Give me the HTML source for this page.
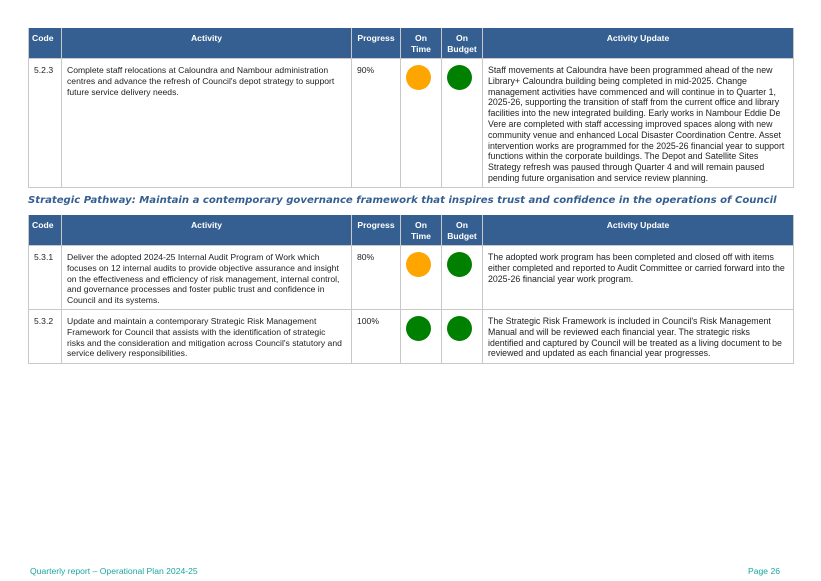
<!DOCTYPE html>
<html><head><meta charset="utf-8"><style>
body{margin:0;width:821px;height:581px;background:#fff;position:relative;font-family:"Liberation Sans",Arial,sans-serif;overflow:hidden}
table{position:absolute;left:28px;width:766px;border-collapse:collapse;table-layout:fixed;font-size:8.6px;line-height:10.8px;color:#222}
th{background:#355f91;color:#fff;font-weight:bold;font-size:8.6px;line-height:10.5px;vertical-align:top;padding:5px 3px 0;border:1px solid #c8c8c8;border-top:none;height:25px}
td{vertical-align:top;border:1px solid #c8c8c8;padding:6px 2px 3px 5px;white-space:nowrap;overflow:hidden}
td.u{font-size:8.8px}
.c{display:block;width:25px;height:25px;border-radius:50%;margin:0 auto 0 0}
.o{background:#fea500}.g{background:#008000}
h2{position:absolute;left:28px;top:195px;margin:0;font-family:"DejaVu Sans",sans-serif;font-style:italic;font-weight:bold;font-size:10.1px;color:#365f91;white-space:nowrap}
.f{position:absolute;top:566px;font-size:8.6px;color:#1aa6a0}
</style></head><body>
<table style="top:28px">
<colgroup><col style="width:33px"><col style="width:290px"><col style="width:49px"><col style="width:41px"><col style="width:41px"><col></colgroup>
<tr><th style="text-align:left">Code</th><th>Activity</th><th>Progress</th><th>On<br>Time</th><th>On<br>Budget</th><th>Activity Update</th></tr>
<tr style="height:129px"><td>5.2.3</td><td>Complete staff relocations at Caloundra and Nambour administration<br>centres and advance the refresh of Council's depot strategy to support<br>future service delivery needs.</td><td>90%</td><td><span class="c o"></span></td><td><span class="c g"></span></td><td class="u">Staff movements at Caloundra have been programmed ahead of the new<br>Library+ Caloundra building being completed in mid-2025. Change<br>management activities have commenced and will continue in to Quarter 1,<br>2025-26, supporting the transition of staff from the current office and library<br>facilities into the new integrated building. Early works in Nambour Eddie De<br>Vere are completed with staff accessing improved spaces along with new<br>community venue and enhanced Local Disaster Coordination Centre. Asset<br>intervention works are programmed for the 2025-26 financial year to support<br>functions within the corporate buildings. The Depot and Satellite Sites<br>Strategy refresh was paused through Quarter 4 and will remain paused<br>pending future organisation and service review planning.</td></tr>
</table>
<h2>Strategic Pathway: Maintain a contemporary governance framework that inspires trust and confidence in the operations of Council</h2>
<table style="top:215px">
<colgroup><col style="width:33px"><col style="width:290px"><col style="width:49px"><col style="width:41px"><col style="width:41px"><col></colgroup>
<tr><th style="text-align:left">Code</th><th>Activity</th><th>Progress</th><th>On<br>Time</th><th>On<br>Budget</th><th>Activity Update</th></tr>
<tr style="height:63px"><td>5.3.1</td><td>Deliver the adopted 2024-25 Internal Audit Program of Work which<br>focuses on 12 internal audits to provide objective assurance and insight<br>on the effectiveness and efficiency of risk management, internal control,<br>and governance processes and foster public trust and confidence in<br>Council and its systems.</td><td>80%</td><td><span class="c o"></span></td><td><span class="c g"></span></td><td class="u">The adopted work program has been completed and closed off with items<br>either completed and reported to Audit Committee or carried forward into the<br>2025-26 financial year work program.</td></tr>
<tr style="height:54px"><td>5.3.2</td><td>Update and maintain a contemporary Strategic Risk Management<br>Framework for Council that assists with the identification of strategic<br>risks and the consideration and mitigation across Council's statutory and<br>service delivery responsibilities.</td><td>100%</td><td><span class="c g"></span></td><td><span class="c g"></span></td><td class="u">The Strategic Risk Framework is included in Council's Risk Management<br>Manual and will be reviewed each financial year. The strategic risks<br>identified and captured by Council will be treated as a living document to be<br>reviewed and updated as each financial year progresses.</td></tr>
</table>
<div class="f" style="left:30px">Quarterly report – Operational Plan 2024-25</div>
<div class="f" style="left:748px">Page 26</div>
</body></html>
